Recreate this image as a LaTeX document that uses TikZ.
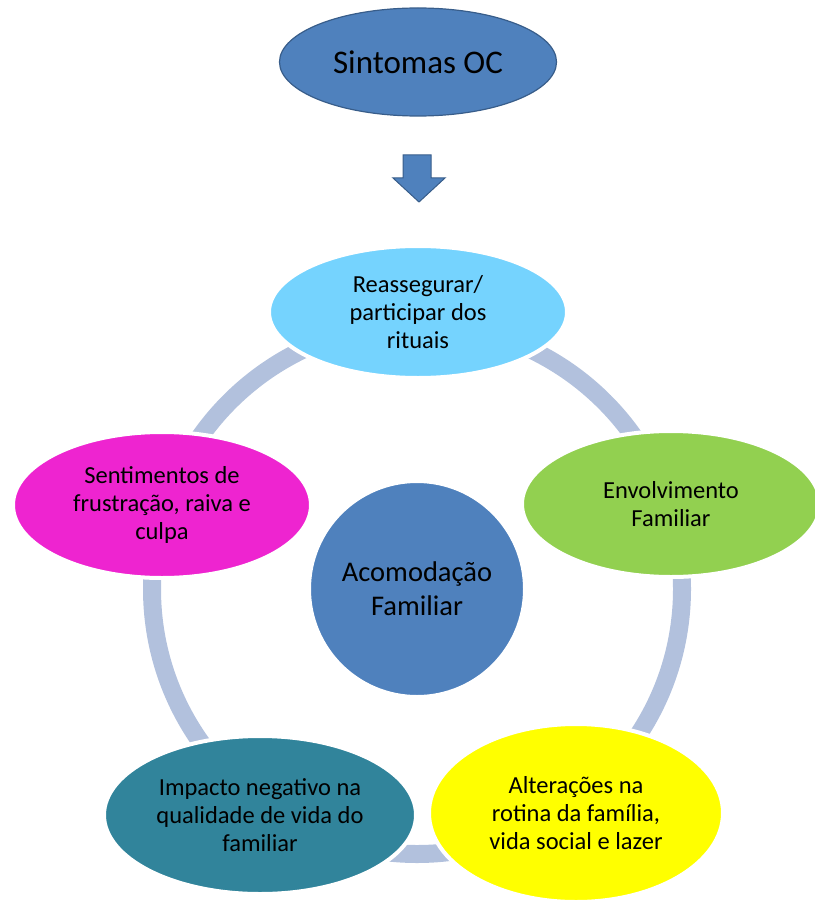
\documentclass[tikz,border=0pt]{standalone}
\usepackage{fontspec}
\setmainfont{Carlito}
\usetikzlibrary{shapes.geometric}
\definecolor{ringc}{RGB}{178,193,221}
\definecolor{skyc}{RGB}{117,211,254}
\definecolor{greenc}{RGB}{146,208,80}
\definecolor{magc}{RGB}{238,36,208}
\definecolor{yelc}{RGB}{255,255,0}
\definecolor{tealc}{RGB}{49,132,155}
\definecolor{bluec}{RGB}{79,129,189}
\definecolor{bluedk}{RGB}{56,93,138}
\tikzset{
  bubble/.style={ellipse, inner sep=0pt, draw=white, line width=4pt, align=center,
    font=\fontsize{24.5}{28}\selectfont, text=black},
  topell/.style={ellipse, inner sep=0pt, draw=bluedk, line width=1.2pt, fill=bluec,
    font=\fontsize{33}{38}\selectfont},
  ringline/.style={draw=ringc, line width=18pt},
  downarrow/.style={fill=bluec, draw=bluedk, line width=1pt, line join=miter}
}
\begin{document}
\begin{tikzpicture}[x=1pt,y=-1pt]
\useasboundingbox (0,0) rectangle (814,904);
% top node
\node[topell, minimum width=277pt, minimum height=108pt] (sint) at (418,62) {Sintomas OC};
% arrow
\draw[downarrow] (403,155) -- (431,155) -- (431,178) -- (445,178) -- (419,202)
  -- (393,178) -- (403,178) -- cycle;
% ring
\coordinate (rc) at (417,589);
\draw[ringline] (rc) circle (265pt);
% center circle
\node[circle, fill=bluec, draw=white, line width=2pt, minimum size=214pt, inner sep=0pt,
  align=center, font=\fontsize{28.5}{34}\selectfont] (acom) at (rc) {Acomodação\\Familiar};
% outer bubbles
\node[bubble, fill=skyc, minimum width=298pt, minimum height=132pt] (reas) at (418,312)
  {Reassegurar/\\participar dos\\rituais};
\node[bubble, fill=greenc, minimum width=298pt, minimum height=146pt] (envo) at (671,504)
  {Envolvimento\\Familiar};
\node[bubble, fill=yelc, minimum width=294pt, minimum height=178pt] (alte) at (576,813)
  {Alterações na\\rotina da família,\\vida social e lazer};
\node[bubble, fill=tealc, minimum width=312pt, minimum height=158pt] (impa) at (260,815)
  {Impacto negativo na\\qualidade de vida do\\familiar};
\node[bubble, fill=magc, minimum width=298pt, minimum height=146pt] (sent) at (162,505)
  {Sentimentos de\\frustração, raiva e\\culpa};
\end{tikzpicture}
\end{document}
